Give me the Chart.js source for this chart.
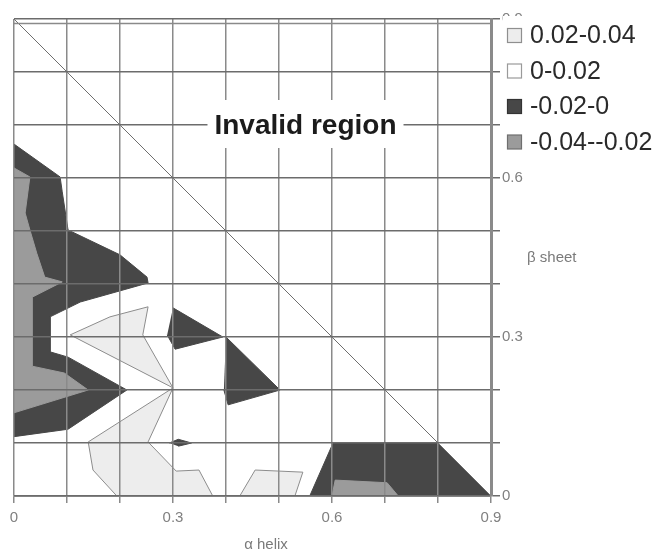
<!DOCTYPE html>
<html>
<head>
<meta charset="utf-8">
<title>Contour</title>
<script src="https://cdn.jsdelivr.net/npm/chart.js@4.4.1/dist/chart.umd.min.js"></script>
<style>
    html, body { margin: 0; padding: 0; background: #fff; }
    #contourChart { display: block; }
</style>
</head>
<body>
<canvas id="contourChart" width="658" height="552"></canvas>
<script>
// Dados (vértices de cada região, em coordenadas α helix / β sheet)
const darkLeft = [[0, 0.664], [0.087, 0.602], [0.091, 0.574], [0.102, 0.502], [0.2, 0.455], [0.251, 0.413],
    [0.253, 0.402], [0.125, 0.366], [0.068, 0.338], [0.068, 0.272], [0.102, 0.262], [0.213, 0.2],
    [0.102, 0.126], [0, 0.112]];
const mediumLeft = [[0, 0.619], [0.03, 0.602], [0.021, 0.534], [0.03, 0.502], [0.043, 0.458], [0.058, 0.413],
    [0.091, 0.404], [0.034, 0.375], [0.034, 0.245], [0.095, 0.232], [0.14, 0.2], [0, 0.157]];
const lightUpper = [[0.106, 0.304], [0.181, 0.338], [0.253, 0.357], [0.243, 0.304], [0.3, 0.204]];
const lightLower = [[0.3, 0.204], [0.14, 0.102], [0.149, 0.049], [0.194, 0], [0.375, 0], [0.349, 0.049],
    [0.306, 0.047], [0.253, 0.102]];
const lightSmall = [[0.426, 0], [0.455, 0.049], [0.545, 0.045], [0.53, 0]];
const darkSpot = [[0.293, 0.1], [0.31, 0.107], [0.335, 0.1], [0.31, 0.094]];
const darkTri1 = [[0.3, 0.355], [0.394, 0.3], [0.304, 0.277], [0.289, 0.304]];
const darkTri2 = [[0.4, 0.3], [0.502, 0.2], [0.404, 0.172], [0.396, 0.2]];
const darkRight = [[0.558, 0], [0.602, 0.1], [0.8, 0.1], [0.9, 0]];
const mediumRight = [[0.6, 0], [0.606, 0.03], [0.704, 0.025], [0.725, 0]];
const boundary = [[0, 0.9], [0.9, 0]];

const legendLabels = ['0.02-0.04', '0-0.02', '-0.02-0', '-0.04--0.02'];
const xTickLabels = ['0', '0.3', '0.6', '0.9'];
const yTickLabels = ['0', '0.3', '0.6', '0.9'];
const invalidLabel = 'Invalid region';
const xTitle = 'α helix';
const yTitle = 'β sheet';

const DARK = '#474747';
const MEDIUM = '#9b9b9b';
const LIGHT = '#ededed';
const FONT = '"Liberation Sans", Arial, sans-serif';

document.addEventListener('DOMContentLoaded', function() {
    createContourChart();
});

// Converter lista de vértices em pontos do Chart.js
function toPoints(list, close) {
    const pts = list.map(p => ({ x: p[0], y: p[1] }));
    if (close) pts.push({ x: list[0][0], y: list[0][1] });
    return pts;
}

function region(list, fillColor, order, outline) {
    return {
        data: toPoints(list, !!outline),
        showLine: true,
        fill: 'shape',
        backgroundColor: fillColor,
        borderColor: outline || fillColor,
        borderWidth: 1,
        pointRadius: 0,
        tension: 0,
        order: order
    };
}

// Legenda, títulos e rótulo da região inválida
const extrasPlugin = {
    id: 'extras',
    afterDraw(chart) {
        const ctx = chart.ctx;
        const area = chart.chartArea;
        const xs = chart.scales.x;
        const ys = chart.scales.y;
        ctx.save();

        // Segunda linha da borda superior da área do gráfico
        ctx.strokeStyle = '#8a8a8a';
        ctx.lineWidth = 1.5;
        ctx.beginPath();
        ctx.moveTo(area.left, area.top + 4.5);
        ctx.lineTo(area.right, area.top + 4.5);
        ctx.stroke();

        // Rótulo "Invalid region" com fundo branco
        ctx.font = 'bold 28px ' + FONT;
        const cx = xs.getPixelForValue(0.55);
        const cy = ys.getPixelForValue(0.7);
        const w = ctx.measureText(invalidLabel).width;
        ctx.fillStyle = '#fff';
        ctx.fillRect(cx - w / 2 - 7, cy - 25, w + 14, 48);
        ctx.fillStyle = '#1b1b1b';
        ctx.textAlign = 'center';
        ctx.textBaseline = 'middle';
        ctx.fillText(invalidLabel, cx, cy + 1);

        // Títulos dos eixos
        ctx.font = '15px ' + FONT;
        ctx.fillStyle = '#7a7a7a';
        ctx.fillText(xTitle, 266, 545);
        ctx.textAlign = 'left';
        ctx.fillText(yTitle, 527, 258);

        // Legenda
        const fills = [LIGHT, '#ffffff', DARK, MEDIUM];
        const borders = ['#8f8f8f', '#9a9a9a', '#333333', '#6f6f6f'];
        ctx.fillStyle = '#fff';
        ctx.fillRect(503, 16, 155, 145);
        ctx.font = '25px ' + FONT;
        legendLabels.forEach((label, i) => {
            const y = 35.5 + i * 35.5;
            ctx.fillStyle = fills[i];
            ctx.fillRect(507.5, y - 7, 14, 14);
            ctx.strokeStyle = borders[i];
            ctx.lineWidth = 1.2;
            ctx.strokeRect(507.5, y - 7, 14, 14);
            ctx.fillStyle = '#2a2a2a';
            ctx.textBaseline = 'middle';
            ctx.fillText(label, 530, y + 1);
        });
        ctx.restore();
    }
};

function createContourChart() {
    const ctx = document.getElementById('contourChart').getContext('2d');

    window.contourChart = new Chart(ctx, {
        type: 'scatter',
        data: {
            datasets: [
                region(darkLeft, DARK, 20),
                region(mediumLeft, MEDIUM, 19),
                region(lightUpper, LIGHT, 18, '#8c8c8c'),
                region(lightLower, LIGHT, 18, '#8c8c8c'),
                region(lightSmall, LIGHT, 18, '#8c8c8c'),
                region(darkSpot, DARK, 17),
                region(darkTri1, DARK, 17),
                region(darkTri2, DARK, 17),
                region(darkRight, DARK, 16),
                region(mediumRight, MEDIUM, 15),
                {
                    data: toPoints(boundary, false),
                    showLine: true,
                    fill: false,
                    borderColor: '#6e6e6e',
                    borderWidth: 1,
                    pointRadius: 0,
                    order: 1
                }
            ]
        },
        options: {
            responsive: false,
            animation: false,
            events: [],
            layout: {
                padding: { left: 14, top: 19, right: 0, bottom: 0 }
            },
            plugins: {
                legend: { display: false },
                tooltip: { enabled: false }
            },
            scales: {
                x: {
                    type: 'linear',
                    min: 0,
                    max: 0.9,
                    afterFit: function(scale) { scale.height = 56; },
                    ticks: {
                        stepSize: 0.1,
                        autoSkip: false,
                        maxRotation: 0,
                        padding: 6,
                        color: '#808080',
                        font: { family: FONT, size: 15 },
                        callback: function(value, index) {
                            return index % 3 === 0 ? xTickLabels[index / 3] : '';
                        }
                    },
                    grid: {
                        color: '#8a8a8a',
                        lineWidth: 1.5,
                        tickColor: '#8a8a8a',
                        tickLength: 7,
                        z: 1
                    },
                    border: { color: '#999999', width: 2, z: 1 }
                },
                y: {
                    type: 'linear',
                    position: 'right',
                    min: 0,
                    max: 0.9,
                    afterFit: function(scale) { scale.width = 167; },
                    ticks: {
                        stepSize: 0.1,
                        autoSkip: false,
                        padding: 2,
                        color: '#808080',
                        font: { family: FONT, size: 15 },
                        callback: function(value, index) {
                            return index % 3 === 0 ? yTickLabels[index / 3] : '';
                        }
                    },
                    grid: {
                        color: '#6c6c6c',
                        lineWidth: 1.5,
                        tickColor: '#6c6c6c',
                        tickLength: 9,
                        z: 1
                    },
                    border: { color: '#8a8a8a', width: 3, z: 1 }
                }
            }
        },
        plugins: [extrasPlugin]
    });
}
</script>
</body>
</html>
